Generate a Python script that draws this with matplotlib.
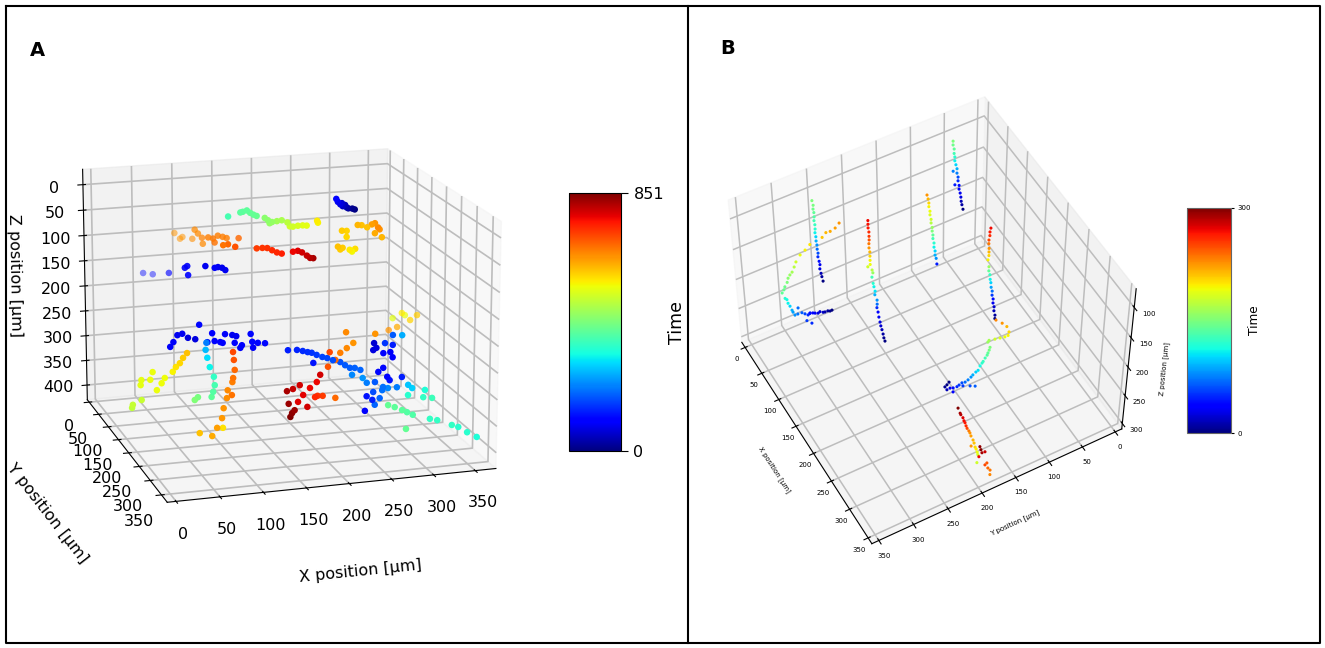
import matplotlib
matplotlib.use("Agg")
import numpy as np
import matplotlib.pyplot as plt
from matplotlib.cm import ScalarMappable
from matplotlib.colors import Normalize
from matplotlib.lines import Line2D

W, H = 1325, 648

ticks_xy = [0, 50, 100, 150, 200, 250, 300, 350]
ticks_az = [0, 50, 100, 150, 200, 250, 300, 350, 400]
ticks_bz = [100, 150, 200, 250, 300]

# panel A tracks
a_x = [263,265,268,270,271,274,276,278,283,286,139,154,157,162,166,170,174,184,188,193,190,199,205,212,215,219,225,231,236,250,249,310,315,322,328,332,336,338,332,341,290,296,296,285,291,300,307,303,288,97,104,107,118,117,121,126,127,131,137,139,143,149,154,169,144,150,159,174,181,187,193,199,205,219,225,224,230,234,238,60,72,87,99,102,103,119,125,129,134,138,72,76,81,87,94,103,108,118,124,127,134,140,137,149,154,152,161,159,172,174,175,181,190,114,113,115,118,123,124,122,120,103,99,147,148,149,147,146,109,108,104,102,96,90,75,103,114,98,93,89,84,80,55,52,41,40,70,66,60,41,29,30,182,193,200,206,211,217,224,230,237,246,252,258,264,271,213,262,254,246,240,231,233,253,289,183,179,171,163,157,159,151,144,146,168,150,148,153,177,180,186,201,244,257,262,272,282,288,281,290,299,305,282,287,276,270,262,269,278,260,272,322,325,321,336,346,346,334,343,346,358,365,376,382,393,402,386,370,320,325,320,341,350,339,271,279,288,294,301,293,322,331,349,357,368,380]
a_y = [130]*10 + [100]*21 + [70]*18 + [10]*3 + [15] + [30]*4 + [40]*7 + [60]*3 + [100]*8 + [120]*4 + [0]*2 + [20] + [50]*3 + [70] + [90]*4 + [80]*23 + [90]*15 + [200]*9 + [60]*15 + [200]*23 + [320]*17 + [250]*19 + [100]*10 + [30]*7 + [230]*6 + [300]*12
a_z = [7,13,18,16,22,20,25,27,28,30,38,32,31,29,34,38,41,46,51,55,57,54,53,58,66,67,66,66,67,63,59,86,87,92,87,85,94,98,105,114,95,96,108,126,129,134,133,138,132,100,112,109,112,88,96,105,117,101,104,112,99,102,105,107,110,109,115,104,104,105,110,115,118,116,115,110,117,122,123,179,183,174,153,150,168,144,140,139,141,146,293,284,271,269,278,282,254,290,273,289,292,277,294,280,283,296,302,307,281,297,309,300,302,286,300,316,335,355,372,385,395,393,398,309,325,345,361,369,327,342,361,380,398,413,405,399,337,318,327,337,344,353,350,365,364,374,364,374,387,404,418,412,260,261,264,267,269,274,279,282,287,292,299,305,306,311,289,257,266,274,287,299,271,235,243,251,264,274,286,298,267,273,276,300,309,318,325,313,292,290,291,297,293,301,311,311,322,325,328,310,325,306,285,303,292,330,337,345,343,365,355,311,321,325,313,318,343,333,332,298,300,322,317,289,305,296,294,298,333,340,353,346,363,360,331,336,343,348,354,380,365,369,381,386,398,409]
a_t = [95,85,70,60,50,40,30,20,10,2,370,390,395,395,400,400,405,440,445,450,450,465,475,490,510,515,520,530,535,555,560,610,600,600,630,640,650,640,620,610,590,585,580,600,590,560,575,550,590,640,640,640,645,650,650,655,650,660,665,670,660,660,660,680,670,680,700,720,725,730,735,740,745,770,780,790,800,810,820,110,110,100,90,90,95,85,90,85,80,85,90,90,85,85,70,70,110,115,100,100,95,90,95,85,85,100,105,90,110,110,90,110,110,210,260,290,310,350,370,385,395,420,430,710,700,680,670,660,650,645,640,635,630,620,600,570,670,600,590,580,570,555,540,540,535,535,545,545,540,505,495,500,130,135,140,145,150,155,160,165,170,175,180,185,188,190,120,640,650,660,680,700,710,650,640,790,770,770,775,780,790,800,820,830,790,840,850,830,740,730,720,680,220,230,210,180,200,220,200,120,210,130,110,100,110,170,120,130,190,95,190,60,70,70,150,130,100,100,90,180,250,640,620,560,585,590,540,530,270,280,340,330,360,350,400,395,390,385,380,400,350,350,350,340,340,330]

# panel B tracks
b_x = [31,31,34,34,36,36,39,42,42,45,45,48,48,51,53,54,56,59,32,37,34,37,39,39,42,42,45,45,48,48,50,50,53,53,56,56,59,61,59,59,59,61,61,61,60,60,62,62,62,62,55,67,69,66,69,71,74,73,79,79,78,81,83,86,88,91,94,96,99,1,4,3,5,5,4,6,6,5,7,7,9,9,11,10,13,15,14,17,19,22,78,66,51,38,26,-13,-29,-46,-61,-68,-76,-84,-91,-95,-104,-108,-115,-106,-100,-97,-91,-85,-82,-76,-66,-52,-42,-32,-26,-16,-9,1,7,17,23,32,39,45,-64,-37,-21,-25,131,129,129,127,127,128,128,128,126,129,129,132,133,135,136,139,139,142,142,145,145,148,148,151,167,179,185,183,175,163,150,135,132,138,136,133,131,126,121,118,113,108,102,94,89,81,73,64,56,50,39,30,21,15,21,27,101,87,67,39,123,129,131,137,140,143,146,149,154,157,160,166,169,172,175,178,180,185,188,191,199,183,178,200,205,208,214,214,161]
b_y = [60]*20 + [100]*18 + [200]*31 + [250]*63 + [60]*60 + [100]*29
b_z = [78,84,88,95,99,105,109,113,120,124,130,135,141,145,150,156,160,165,125,143,144,148,153,159,164,170,175,181,186,192,197,203,208,215,219,226,229,237,119,125,131,136,143,149,156,163,168,175,182,189,199,194,197,207,215,219,224,231,235,242,249,254,261,267,272,276,281,286,289,112,117,124,128,135,142,147,154,161,166,173,178,185,190,197,202,206,214,219,223,228,84,102,120,133,151,196,219,242,267,282,298,310,322,333,349,358,370,372,369,373,373,375,376,376,365,350,343,336,328,318,312,303,295,287,281,271,265,258,352,351,341,326,136,144,150,159,165,172,178,184,193,202,209,213,220,224,231,235,242,246,253,257,264,269,275,275,266,261,265,273,283,296,310,326,332,336,343,351,357,367,378,384,394,407,416,429,438,451,463,473,485,494,507,516,528,528,518,507,444,457,476,515,444,448,449,449,452,453,456,458,458,459,462,464,467,472,473,476,479,458,461,464,454,480,497,479,470,477,475,484,481]
b_t = [150,145,140,130,120,110,100,90,75,60,50,40,35,30,25,15,10,0,75,45,225,215,205,195,190,185,180,170,160,150,140,130,120,110,100,90,80,45,270,268,265,260,255,245,235,225,215,205,195,190,180,170,160,130,120,110,105,90,80,70,50,35,30,25,20,15,10,5,0,150,148,145,140,135,130,125,120,110,100,90,80,70,60,50,40,30,25,15,8,0,225,222,218,214,210,200,195,190,180,172,165,160,155,150,145,142,140,120,112,110,100,90,85,80,72,65,58,50,45,38,32,26,22,18,12,8,4,0,70,55,50,40,270,265,260,250,235,225,215,205,195,160,140,125,110,100,85,70,55,40,30,20,15,8,0,230,225,215,205,195,190,185,180,165,160,150,147,140,137,130,125,120,112,105,98,90,82,75,68,60,55,50,40,30,15,5,2,0,65,60,55,35,300,290,285,275,270,265,258,250,235,225,222,215,210,205,198,190,180,295,298,290,280,270,180,250,245,240,235,230,225]


def px_rect(x0, y0, x1, y1):
    return [x0 / W, 1 - y1 / H, (x1 - x0) / W, (y1 - y0) / H]


def style_3d(ax, lw):
    for axis in (ax.xaxis, ax.yaxis, ax.zaxis):
        axis._axinfo["grid"]["color"] = "#bdbdbd"
        axis._axinfo["grid"]["linewidth"] = lw


fig = plt.figure(figsize=(13.25, 6.48), dpi=100)

ax_a = fig.add_axes(px_rect(20, 56, 534, 588), projection="3d")
ax_a.view_init(elev=16, azim=-107)
ax_a.set_xlim(-10, 375)
ax_a.set_ylim(375, -10)
ax_a.set_zlim(430, -30)
ax_a.set_xticks(ticks_xy)
ax_a.set_yticks(ticks_xy)
ax_a.set_zticks(ticks_az)
ax_a.tick_params(labelsize=11.5)
ax_a.tick_params(axis="x", pad=5.5)
ax_a.tick_params(axis="y", pad=5)
ax_a.tick_params(axis="z", pad=6.5)
ax_a.set_xlabel("X position [µm]", fontsize=11.5, labelpad=25)
ax_a.set_ylabel("Y position [µm]", fontsize=11.5, labelpad=26)
ax_a.set_zlabel("Z position [µm]", fontsize=11.5, labelpad=15)
style_3d(ax_a, 1.2)

norm_a = Normalize(0, 851)
# far points fade out, the rest stay saturated
colors_a = plt.get_cmap("jet")(norm_a(a_t))
colors_a[:, 3] = np.interp(a_y, [0, 60], [0.45, 1])
ax_a.scatter(a_x, a_y, a_z, c=colors_a, s=22, depthshade=False, linewidths=0)

ax_b = fig.add_axes(px_rect(696.5, 75, 1149.5, 571), projection="3d")
ax_b.view_init(elev=51, azim=-29)
ax_b.set_box_aspect((4, 4, 3.1))
ax_b.set_xlim(-10, 360)
ax_b.set_ylim(360, -10)
ax_b.set_zlim(310, 70)
ax_b.set_xticks(ticks_xy)
ax_b.set_yticks(ticks_xy)
ax_b.set_zticks(ticks_bz)
ax_b.tick_params(labelsize=5, pad=-2)
ax_b.set_xlabel("X position [µm]", fontsize=5, labelpad=0)
ax_b.set_ylabel("Y position [µm]", fontsize=5, labelpad=-2)
ax_b.set_zlabel("Z position [µm]", fontsize=5, labelpad=-6)
style_3d(ax_b, 1.1)

norm_b = Normalize(0, 300)
ax_b.scatter(b_x, b_y, b_z, c=b_t, cmap="jet", norm=norm_b, s=5, depthshade=False, linewidths=0)

cax_a = fig.add_axes(px_rect(569, 193, 621, 451))
cb_a = fig.colorbar(ScalarMappable(norm_a, "jet"), cax=cax_a, ticks=[0, 851])
cb_a.ax.tick_params(labelsize=11.5, length=5, pad=4)
cb_a.set_label("Time", fontsize=12.5, labelpad=3)

cax_b = fig.add_axes(px_rect(1187, 208, 1231, 433))
cb_b = fig.colorbar(ScalarMappable(norm_b, "jet"), cax=cax_b, ticks=[0, 300])
cb_b.ax.tick_params(labelsize=5, length=2.5, pad=2)
cb_b.outline.set_edgecolor("#666666")
cb_b.set_label("Time", fontsize=8.7, labelpad=-2)

# outer frame and divider
for xs, ys in [([6, 1320, 1320, 6, 6], [6, 6, 643, 643, 6]), ([688, 688], [6, 643])]:
    fig.add_artist(Line2D([x / W for x in xs], [1 - y / H for y in ys], color="black", lw=1.5))

fig.text(30 / W, 1 - 50 / H, "A", fontsize=14, fontweight="bold", va="center")
fig.text(720 / W, 1 - 48 / H, "B", fontsize=14, fontweight="bold", va="center")

fig.savefig("out.png", dpi=100)
